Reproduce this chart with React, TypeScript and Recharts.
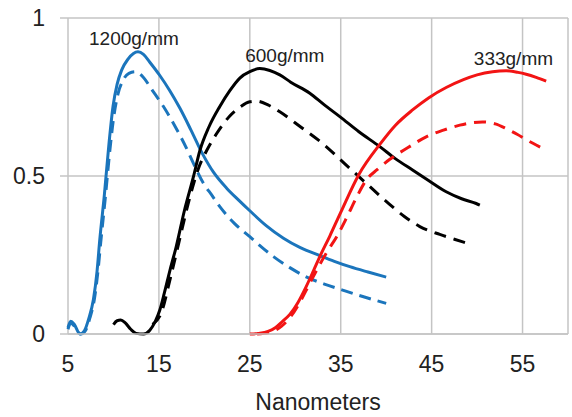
import { LineChart, Line, XAxis, YAxis, CartesianGrid, ReferenceDot } from "recharts";

// 1200g/mm (blue)
const blueSolidX = [5.0, 5.3, 5.7, 6.3, 6.8, 7.3, 7.8, 8.2, 8.5, 9.0, 9.5, 9.95, 10.4, 10.9, 11.6, 12.2, 12.7, 13.3, 14.0, 15.1, 16.2, 17.3, 18.5, 19.8, 21.0, 22.5, 23.8, 25.0, 26.8, 28.7, 30.5, 32.7, 34.3, 36.0, 38.0, 40.0];
const blueSolidY = [0.02, 0.04, 0.03, 0.0, 0.01, 0.05, 0.11, 0.2, 0.3, 0.44, 0.6, 0.72, 0.79, 0.835, 0.87, 0.888, 0.893, 0.885, 0.86, 0.818, 0.77, 0.715, 0.647, 0.57, 0.512, 0.46, 0.423, 0.39, 0.343, 0.303, 0.274, 0.248, 0.23, 0.213, 0.196, 0.18];
const blueDashX = [5.0, 5.3, 5.7, 6.4, 6.9, 7.4, 7.9, 8.3, 8.6, 9.1, 9.6, 10.0, 10.5, 11.0, 11.7, 12.4, 13.2, 14.3, 15.5, 16.8, 18.0, 18.8, 19.9, 20.8, 21.7, 23.3, 25.0, 26.3, 27.6, 29.4, 31.2, 33.2, 35.2, 37.6, 40.0];
const blueDashY = [0.015, 0.035, 0.025, 0.0, 0.01, 0.05, 0.11, 0.2, 0.29, 0.43, 0.58, 0.68, 0.76, 0.8, 0.825, 0.83, 0.815, 0.77, 0.72, 0.656, 0.59, 0.54, 0.477, 0.44, 0.403, 0.35, 0.308, 0.275, 0.245, 0.21, 0.181, 0.158, 0.139, 0.117, 0.097];

// 600g/mm (black)
const blackSolidX = [10.0, 10.4, 10.8, 11.3, 11.9, 12.5, 13.3, 14.0, 14.6, 15.1, 15.6, 16.2, 16.9, 17.8, 18.8, 19.5, 20.5, 21.7, 22.8, 23.9, 25.0, 26.1, 27.2, 28.3, 29.5, 31.6, 33.2, 34.9, 37.0, 39.3, 41.0, 42.9, 44.7, 46.6, 48.3, 49.9, 50.3];
const blackSolidY = [0.03, 0.042, 0.044, 0.035, 0.015, 0.002, 0.0, 0.012, 0.04, 0.076, 0.13, 0.2, 0.276, 0.39, 0.498, 0.58, 0.655, 0.72, 0.77, 0.81, 0.83, 0.84, 0.834, 0.82, 0.797, 0.762, 0.725, 0.688, 0.64, 0.593, 0.555, 0.519, 0.485, 0.45, 0.428, 0.413, 0.408];
const blackDashX = [14.3, 15.3, 16.2, 17.2, 18.2, 19.3, 20.3, 21.3, 22.8, 24.0, 25.0, 25.7, 27.0, 28.3, 30.6, 33.0, 35.4, 37.8, 40.0, 42.0, 43.7, 45.9, 47.5, 48.8];
const blackDashY = [0.03, 0.07, 0.17, 0.29, 0.41, 0.52, 0.583, 0.632, 0.69, 0.72, 0.735, 0.737, 0.725, 0.703, 0.655, 0.603, 0.54, 0.477, 0.42, 0.372, 0.34, 0.315, 0.3, 0.288];

// 333g/mm (red)
const redSolidX = [25.0, 26.0, 27.0, 27.8, 28.6, 29.4, 30.3, 31.2, 32.0, 32.7, 33.8, 35.0, 37.0, 39.3, 41.0, 42.9, 44.7, 46.6, 48.5, 50.0, 51.7, 53.2, 54.5, 55.4, 56.5, 57.6];
const redSolidY = [0.0, 0.002, 0.008, 0.02, 0.04, 0.062, 0.1, 0.15, 0.2, 0.245, 0.31, 0.385, 0.505, 0.6, 0.66, 0.709, 0.748, 0.78, 0.805, 0.82, 0.83, 0.833, 0.828, 0.822, 0.812, 0.8];
const redDashX = [25.8, 27.5, 28.5, 29.5, 30.5, 31.5, 32.5, 33.5, 34.6, 35.6, 36.7, 37.8, 39.0, 40.4, 42.4, 44.4, 46.3, 48.1, 49.5, 50.6, 52.0, 53.2, 54.4, 55.4, 56.5, 57.6];
const redDashY = [0.0, 0.008, 0.025, 0.055, 0.1, 0.155, 0.21, 0.26, 0.31, 0.365, 0.43, 0.487, 0.52, 0.553, 0.59, 0.624, 0.645, 0.661, 0.669, 0.671, 0.665, 0.65, 0.632, 0.615, 0.598, 0.582];

const xTicks = [5, 15, 25, 35, 45, 55];
const yTicks = [0, 0.5, 1];

const labelTexts = ["1200g/mm", "600g/mm", "333g/mm"];
const labelX = [12.25, 28.85, 54.0];
const labelY = [0.937, 0.883, 0.873];

const zip = (xs: number[], ys: number[]) => xs.map((x, i) => ({ x, y: ys[i] }));

const BLUE = "#1b75bc";
const RED = "#f21414";
const GRID = "#c4c4c4";
const FONT = "'Liberation Sans', Arial, sans-serif";

const series = [
  { key: "b1", data: zip(blueSolidX, blueSolidY), color: BLUE, dash: undefined },
  { key: "b2", data: zip(blueDashX, blueDashY), color: BLUE, dash: "12 7" },
  { key: "k1", data: zip(blackSolidX, blackSolidY), color: "#000", dash: undefined },
  { key: "k2", data: zip(blackDashX, blackDashY), color: "#000", dash: "12 8" },
  { key: "r1", data: zip(redSolidX, redSolidY), color: RED, dash: undefined },
  { key: "r2", data: zip(redDashX, redDashY), color: RED, dash: "12 8" },
];

export default function App() {
  return (
    <div style={{ position: "absolute", left: 0, top: 0, background: "#fff" }}>
      <LineChart width={572} height={417} margin={{ top: 18, right: 4, bottom: 0, left: 0 }}>
        <CartesianGrid stroke={GRID} strokeWidth={1.5} />
        <XAxis
          type="number"
          dataKey="x"
          domain={[5, 60]}
          ticks={xTicks}
          height={83}
          tickLine={false}
          tickSize={0}
          tickMargin={22}
          axisLine={{ stroke: GRID, strokeWidth: 1.5 }}
          tick={{ fontSize: 23, fill: "#222", fontFamily: FONT }}
          label={{
            value: "Nanometers",
            position: "insideBottom",
            offset: 7,
            fontSize: 23,
            fill: "#222",
            fontFamily: FONT,
          }}
        />
        <YAxis
          type="number"
          domain={[0, 1]}
          ticks={yTicks}
          width={68}
          axisLine={false}
          tickSize={8}
          tickMargin={15}
          tickLine={{ stroke: GRID, strokeWidth: 1.5 }}
          tick={{ fontSize: 23, fill: "#222", fontFamily: FONT }}
        />
        {series.map((s) => (
          <Line
            key={s.key}
            data={s.data}
            dataKey="y"
            type="monotone"
            stroke={s.color}
            strokeWidth={3}
            strokeDasharray={s.dash}
            dot={false}
            activeDot={false}
            isAnimationActive={false}
          />
        ))}
        {labelTexts.map((t, i) => (
          <ReferenceDot
            key={t}
            x={labelX[i]}
            y={labelY[i]}
            r={0}
            fill="none"
            stroke="none"
            label={{ value: t, position: "center", fontSize: 19, fill: "#222", fontFamily: FONT }}
          />
        ))}
      </LineChart>
    </div>
  );
}
